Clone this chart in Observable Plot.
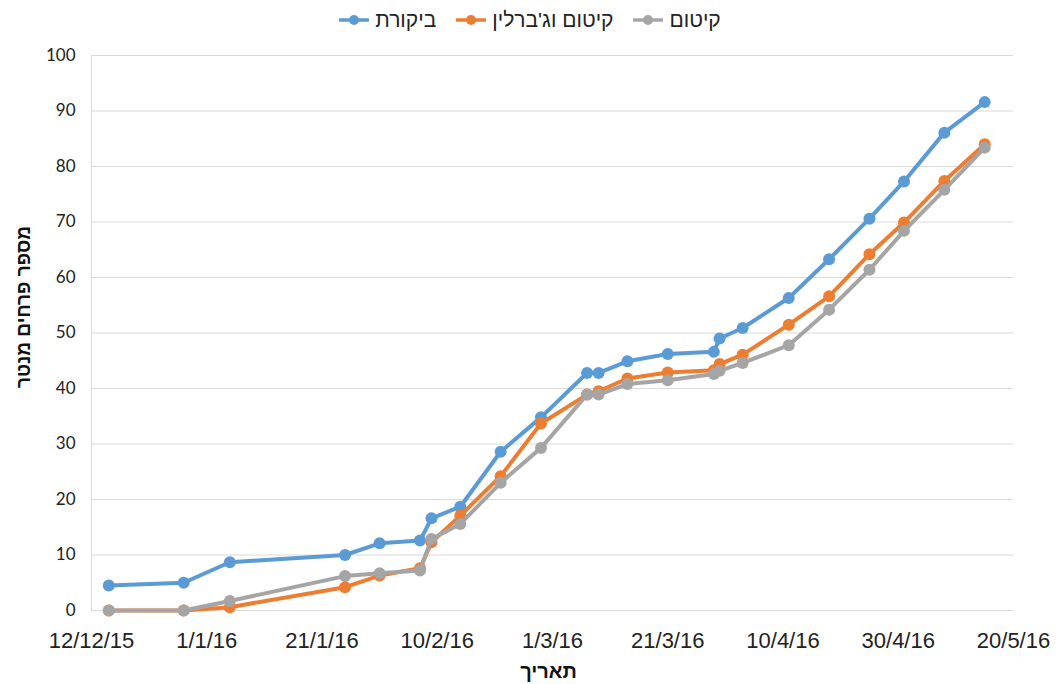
<!DOCTYPE html>
<html>
<head>
<meta charset="utf-8">
<script src="https://cdn.jsdelivr.net/npm/d3@7"></script>
<script src="https://cdn.jsdelivr.net/npm/@observablehq/plot@0.6"></script>
<style>
  body { margin: 0; background: #fff; font-family: "Liberation Sans", Arial, sans-serif; }
  #legend { height: 40px; display: flex; justify-content: center; align-items: center; direction: ltr; gap: 20px; padding-left: 0; }
  .item { display: flex; align-items: center; gap: 6px; font-size: 21px; color: #222; }
  .item span { direction: rtl; unicode-bidi: isolate; }
  #chart svg { display: block; }
</style>
</head>
<body>
<div id="legend"></div>
<div id="chart"></div>
<script>
const seriesNames = ["ביקורת", "קיטום וג'ברלין", "קיטום"];
const seriesColors = ["#5B9BD5", "#ED7D31", "#A5A5A5"];
const dates = ["2015-12-15","2015-12-28","2016-01-05","2016-01-25","2016-01-31","2016-02-07","2016-02-09","2016-02-14","2016-02-21","2016-02-28","2016-03-07","2016-03-09","2016-03-14","2016-03-21","2016-03-29","2016-03-30","2016-04-03","2016-04-11","2016-04-18","2016-04-25","2016-05-01","2016-05-08","2016-05-15"];
const control = [4.5, 5.0, 8.7, 10.0, 12.1, 12.6, 16.6, 18.7, 28.6, 34.8, 42.8, 42.8, 44.9, 46.2, 46.6, 49.0, 50.9, 56.3, 63.3, 70.6, 77.3, 86.1, 91.6];
const pruneGib = [0, 0, 0.6, 4.2, 6.3, 7.6, 12.3, 17.1, 24.2, 33.7, 38.9, 39.5, 41.8, 42.9, 43.3, 44.4, 46.1, 51.5, 56.6, 64.2, 69.9, 77.4, 84.0];
const prune = [0, 0, 1.7, 6.2, 6.7, 7.2, 12.9, 15.6, 23.0, 29.3, 38.9, 38.9, 40.8, 41.5, 42.6, 43.2, 44.6, 47.8, 54.2, 61.4, 68.4, 75.8, 83.4];
const xTicks = ["2015-12-12","2016-01-01","2016-01-21","2016-02-10","2016-03-01","2016-03-21","2016-04-10","2016-04-30","2016-05-20"];
const yTicks = [0,10,20,30,40,50,60,70,80,90,100];
const xTitle = "תאריך";
const yTitle = "מספר פרחים מנטר";

const parse = s => new Date(s + "T00:00:00Z");
const allSeries = [control, pruneGib, prune];
const rows = [];
allSeries.forEach((vals, i) => vals.forEach((v, j) => rows.push({date: parse(dates[j]), value: v, series: seriesNames[i]})));
const fmt = d => `${d.getUTCDate()}/${d.getUTCMonth() + 1}/${d.getUTCFullYear() % 100}`;

// legend
const legend = document.getElementById("legend");
seriesNames.forEach((name, i) => {
  const it = document.createElement("div");
  it.className = "item";
  it.innerHTML = `<svg width="30" height="14"><line x1="1" y1="7" x2="29" y2="7" stroke="${seriesColors[i]}" stroke-width="3.5" stroke-linecap="round"/><circle cx="15" cy="7" r="5" fill="${seriesColors[i]}"/></svg><span>${name}</span>`;
  legend.appendChild(it);
});

const marks = [
  Plot.ruleY(yTicks, {stroke: "#D9D9D9", strokeWidth: 1}),
  Plot.ruleX([parse(xTicks[0])], {stroke: "#D9D9D9", strokeWidth: 1}),
  Plot.axisX({ticks: xTicks.map(parse), tickFormat: fmt, tickSize: 0, tickPadding: 22, fontSize: 22, fontFamily: "Liberation Sans, Arial, sans-serif", label: null}),
  Plot.axisY({ticks: yTicks, tickSize: 0, tickPadding: 16, fontSize: 17, fontFamily: "Lato, sans-serif", label: null}),
];
seriesNames.forEach((name, i) => {
  const data = rows.filter(r => r.series === name);
  marks.push(Plot.line(data, {x: "date", y: "value", stroke: seriesColors[i], strokeWidth: 4, strokeLinejoin: "round"}));
  marks.push(Plot.dot(data, {x: "date", y: "value", fill: seriesColors[i], r: 6}));
});
marks.push(Plot.text([yTitle], {frameAnchor: "left", textAnchor: "middle", dx: -68, dy: -26, rotate: -90, fontSize: 19, fontWeight: "bold", fill: "#111", fontFamily: "Liberation Sans, Arial, sans-serif"}));
marks.push(Plot.text([xTitle], {frameAnchor: "bottom", dy: 67, dx: -4, fontSize: 20, fontWeight: "bold", fill: "#111", fontFamily: "Liberation Sans, Arial, sans-serif"}));

const chart = Plot.plot({
  width: 1060,
  height: 644,
  marginLeft: 91,
  marginRight: 47,
  marginTop: 15,
  marginBottom: 74,
  style: {background: "#fff", color: "#222", overflow: "visible"},
  x: {type: "utc", domain: [parse(xTicks[0]), parse(xTicks[xTicks.length - 1])]},
  y: {domain: [0, 100]},
  marks
});
document.getElementById("chart").appendChild(chart);
</script>
</body>
</html>
